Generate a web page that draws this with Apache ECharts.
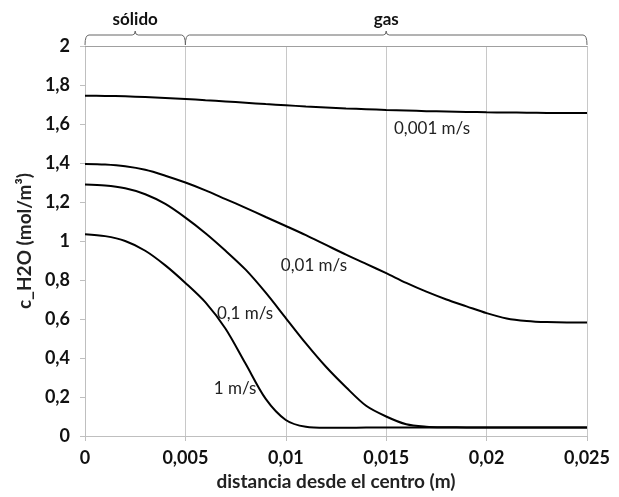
<!DOCTYPE html>
<html>
<head>
<meta charset="utf-8">
<script src="https://cdn.jsdelivr.net/npm/echarts@6/dist/echarts.min.js"></script>
<style>
  html, body { margin: 0; padding: 0; background: #fff; }
  #chart { width: 619px; height: 497px; }
</style>
</head>
<body>
<div id="chart"></div>
<script>
// distance from centre (m)
const xs = [0, 0.001, 0.002, 0.003, 0.004, 0.005, 0.006, 0.007, 0.008, 0.009, 0.010, 0.011, 0.012,
  0.013, 0.014, 0.015, 0.016, 0.017, 0.018, 0.019, 0.020, 0.021, 0.022, 0.023, 0.024, 0.025];

// c_H2O for each gas velocity
const v0001 = [1.745, 1.744, 1.742, 1.738, 1.733, 1.728, 1.722, 1.716, 1.709, 1.702, 1.696, 1.690, 1.685,
  1.680, 1.676, 1.672, 1.669, 1.666, 1.664, 1.662, 1.660, 1.659, 1.658, 1.657, 1.656, 1.656];
const v001 = [1.395, 1.392, 1.383, 1.365, 1.335, 1.300, 1.260, 1.215, 1.170, 1.123, 1.077, 1.030, 0.980,
  0.930, 0.883, 0.835, 0.785, 0.740, 0.700, 0.665, 0.630, 0.603, 0.590, 0.584, 0.582, 0.582];
const v01 = [1.290, 1.285, 1.270, 1.240, 1.190, 1.120, 1.040, 0.950, 0.853, 0.735, 0.605, 0.475, 0.355,
  0.250, 0.155, 0.100, 0.060, 0.048, 0.045, 0.044, 0.044, 0.044, 0.044, 0.044, 0.044, 0.044];
const v1 = [1.035, 1.025, 1.000, 0.950, 0.875, 0.785, 0.685, 0.550, 0.370, 0.190, 0.082, 0.047, 0.042,
  0.042, 0.043, 0.043, 0.043, 0.043, 0.044, 0.044, 0.044, 0.044, 0.044, 0.044, 0.044, 0.044];

const seriesNames = ['0,001 m/s', '0,01 m/s', '0,1 m/s', '1 m/s'];
const xTickLabels = ['0', '0,005', '0,01', '0,015', '0,02', '0,025'];
const yTickLabels = ['0', '0,2', '0,4', '0,6', '0,8', '1', '1,2', '1,4', '1,6', '1,8', '2'];

// zones shown with braces above the plot
const zones = [[0, 0.005, 'sólido'], [0.005, 0.025, 'gas']];

const font = 'Lato, "Open Sans", sans-serif';
const pairs = (ys) => xs.map((x, i) => [x, ys[i]]);

function curve(name, ys, labelAt) {
  return {
    name: name,
    type: 'line',
    data: pairs(ys),
    smooth: 0.3,
    symbol: 'none',
    lineStyle: { color: '#000', width: 2 },
    markPoint: {
      symbol: 'circle',
      symbolSize: 0,
      label: { show: true, formatter: name, color: '#222', fontFamily: font, fontSize: 17 },
      data: [{ coord: labelAt }]
    }
  };
}

const chart = echarts.init(document.getElementById('chart'));
chart.setOption({
  animation: false,
  grid: { left: 85, right: 32, top: 46, bottom: 61 },
  xAxis: [{
    type: 'value',
    min: 0, max: 0.025, interval: 0.005,
    name: 'distancia desde el centro (m)',
    nameLocation: 'middle', nameGap: 30,
    nameTextStyle: { fontFamily: font, fontSize: 19, fontWeight: 'bold', color: '#222' },
    axisLine: { lineStyle: { color: '#bfbfbf' } },
    axisTick: { show: true, length: 5, lineStyle: { color: '#bfbfbf' } },
    axisLabel: {
      margin: 13, fontFamily: font, fontSize: 18, fontWeight: 'bold', color: '#111',
      formatter: (v, i) => xTickLabels[i]
    },
    splitLine: { show: true, lineStyle: { color: '#c8c8c8', width: 1 } }
  }, {
    type: 'value', position: 'top',
    min: 0, max: 0.025,
    axisLine: { lineStyle: { color: '#a0a0a0' } },
    axisTick: { show: false }, axisLabel: { show: false }, splitLine: { show: false }
  }],
  yAxis: {
    type: 'value',
    min: 0, max: 2, interval: 0.2,
    name: 'c_H2O (mol/m³)',
    nameLocation: 'middle', nameGap: 50,
    nameTextStyle: { fontFamily: font, fontSize: 19, fontWeight: 'bold', color: '#222' },
    axisLine: { show: true, lineStyle: { color: '#bfbfbf' } },
    axisTick: { show: true, length: 5, lineStyle: { color: '#bfbfbf' } },
    axisLabel: {
      margin: 15, fontFamily: font, fontSize: 18, fontWeight: 'bold', color: '#111',
      formatter: (v, i) => yTickLabels[i]
    },
    splitLine: { show: false }
  },
  series: [
    curve(seriesNames[0], v0001, [0.01728, 1.579]),
    curve(seriesNames[1], v001, [0.0114, 0.872]),
    curve(seriesNames[2], v01, [0.00797, 0.626]),
    curve(seriesNames[3], v1, [0.00747, 0.241]),
    {
      type: 'custom',
      clip: false,
      silent: true,
      data: zones,
      renderItem: function (params, api) {
        const a = api.coord([api.value(0), 2]);
        const b = api.coord([api.value(1), 2]);
        const y0 = a[1] - 1, y1 = y0 - 10, m = (a[0] + b[0]) / 2;
        const path = 'M' + a[0] + ',' + y0 +
          ' Q' + a[0] + ',' + y1 + ' ' + (a[0] + 4) + ',' + y1 +
          ' L' + (m - 3) + ',' + y1 +
          ' Q' + m + ',' + y1 + ' ' + m + ',' + (y1 - 4) +
          ' Q' + m + ',' + y1 + ' ' + (m + 3) + ',' + y1 +
          ' L' + (b[0] - 4) + ',' + y1 +
          ' Q' + b[0] + ',' + y1 + ' ' + b[0] + ',' + y0;
        return {
          type: 'group',
          children: [{
            type: 'path',
            shape: { pathData: path },
            style: { fill: null, stroke: '#666', lineWidth: 1 }
          }, {
            type: 'text',
            style: {
              text: api.value(2), x: m, y: y1 - 7,
              align: 'center', verticalAlign: 'bottom',
              font: 'bold 17px ' + font, fill: '#111'
            }
          }]
        };
      }
    }
  ]
});
</script>
</body>
</html>
